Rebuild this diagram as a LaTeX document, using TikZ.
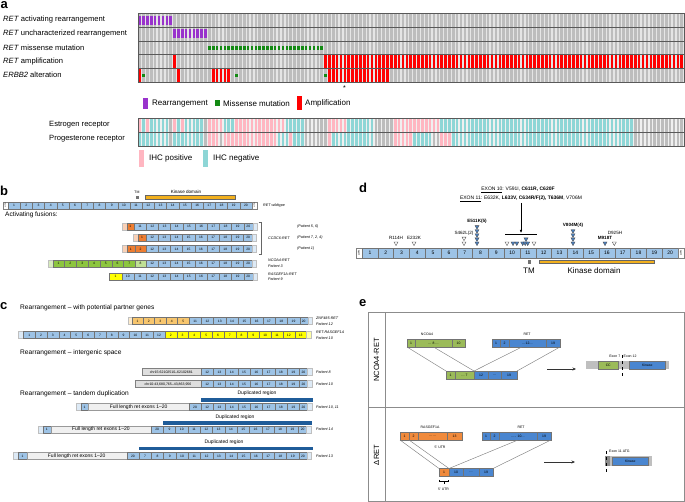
\documentclass[tikz,border=0pt]{standalone}
\usepackage{fontspec}
\setmainfont{Liberation Sans}
\usepackage{graphicx}
\usetikzlibrary{arrows.meta,calc}

\definecolor{rearr}{HTML}{9933CC}
\definecolor{missense}{HTML}{138A13}
\definecolor{ampl}{HTML}{FF0000}
\definecolor{ihcpos}{HTML}{FFB6C1}
\definecolor{ihcneg}{HTML}{8ED6D6}
\definecolor{nodata}{HTML}{BDBDBD}
\definecolor{exonblue}{HTML}{9DC3E6}
\definecolor{fusorange}{HTML}{ED7D31}
\definecolor{fusgreen}{HTML}{8DC63F}
\definecolor{fusyellow}{HTML}{FFFF00}
\definecolor{fustan}{HTML}{F8C66E}
\definecolor{kinase}{HTML}{F2B01E}
\definecolor{dupblue}{HTML}{1F5C99}
\definecolor{eblue}{HTML}{4A86D0}
\definecolor{egreen}{HTML}{9BBB59}
\definecolor{eorange}{HTML}{F08A3C}
\definecolor{mutblue}{HTML}{4A7EBB}

\def\cw{3.872}
\newcommand{\fs}[1]{\fontsize{#1}{#1}\selectfont}
% one box of an exon row, placed after the previous one
\newcounter{segno}
\newcommand{\seg}[4][]{%
  \stepcounter{segno}%
  \edef\segname{\ifx\relax#1\relax seg\arabic{segno}\else #1\fi}%
  \node[exon, #4, minimum width=#2] (\segname) at (\segx,\segy) {#3};
  \pgfmathsetmacro{\tmpx}{\segx+#2}\xdef\segx{\tmpx}}
% cells of the oncoprint
\newcommand{\hit}[5]{%
  \foreach \k in {#1,...,#2}
    \fill[#5] ({138+\k*\cw+0.4},#3) rectangle ({138+(\k+1)*\cw-0.9},#4);}

\tikzset{
  panel/.style={anchor=base west, inner sep=0, font=\fs{13}\bfseries},
  rowlab/.style={anchor=west, inner sep=0, font=\fs{7.6}},
  leglab/.style={anchor=west, inner sep=0, font=\fs{8}},
  head/.style={anchor=west, inner sep=0, font=\fs{6.6}},
  pat/.style={anchor=west, inner sep=0, font=\fs{3.7}\itshape},
  lbl/.style={inner sep=0, font=\fs{#1}},
  exon/.style={draw=black!55, line width=0.35, fill=exonblue, minimum height=7,
    inner sep=0, outer sep=0, anchor=west, font=\fs{3.3}},
  utr/.style={fill=white, draw=black!50},
  fade/.style={fill=#1!35, draw=black!25},
  fade/.default=exonblue,
  chrbox/.style={fill=black!13, draw=black!50, font=\fs{3.5}},
  fullbox/.style={fill=black!6, draw=black!40, font=\fs{5}},
  dex/.style={minimum height=10, font=\fs{5}},
  ebox/.style={fill=eblue, draw=black!55, minimum height=8, font=\fs{3.4}},
  link/.style={draw=black!50, line width=0.45},
  earrow/.style={-{Stealth[length=3.5,width=3]}, draw=black!80, line width=0.8},
  mut/.style={inner sep=0, font=\fs{4.6}},
  mutb/.style={inner sep=0, font=\fs{4.6}\bfseries},
  mutopen/.pic={\draw[black!70, fill=white, line width=0.35] (-2,-1.7) -- (2,-1.7) -- (0,1.9) -- cycle;},
  mutfill/.pic={\draw[black!70, fill=mutblue, line width=0.35] (-2,-1.7) -- (2,-1.7) -- (0,1.9) -- cycle;},
}

\begin{document}
\begin{tikzpicture}[x=1pt, y=-1pt]
\useasboundingbox (0,0) rectangle (685,502);

% ---------------- a ----------------
\node[panel] (pa) at (0.5,9) {a};
\node[rowlab] (ra1) at (3,19.8) {\textit{RET} activating rearrangement};
\node[rowlab] (ra2) at (3,33.6) {\textit{RET} uncharacterized rearrangement};
\node[rowlab] (ra3) at (3,47.4) {\textit{RET} missense mutation};
\node[rowlab] (ra4) at (3,61.4) {\textit{RET} amplification};
\node[rowlab] (ra5) at (3,75.2) {\textit{ERBB2} alteration};
\fill[black!10] (138,13.3) rectangle (684,82.3);
\hit{0}{140}{13.3}{82.3}{nodata}
\hit{0}{8}{15.6}{24.6}{rearr}
\hit{9}{17}{29.4}{38.4}{rearr}
\hit{18}{47}{45.9}{49.7}{missense}
\hit{9}{9}{54.7}{68.5}{ampl}
\hit{48}{140}{54.7}{68.5}{ampl}
\hit{0}{0}{68.5}{82.3}{ampl}
\hit{1}{1}{73.6}{77.4}{missense}
\hit{10}{10}{68.5}{82.3}{ampl}
\hit{19}{23}{68.5}{82.3}{ampl}
\hit{25}{25}{73.6}{77.4}{missense}
\hit{48}{48}{73.6}{77.4}{missense}
\hit{49}{64}{68.5}{82.3}{ampl}
\foreach \y in {27.1,40.9,54.7,68.5}
  \draw[black!65, line width=0.7] (138,\y) -- (684,\y);
\draw[black!65, line width=0.7] (138,13.3) rectangle (684,82.3);
\node[lbl=7] (star) at (344.5,88.2) {*};
% legend
\fill[rearr] (142.7,97.7) rectangle (148.3,109);
\node[leglab] (lg1) at (152,103.3) {Rearrangement};
\fill[missense] (215,100) rectangle (220,106.5);
\node[leglab] (lg2) at (223,103.3) {Missense mutation};
\fill[ampl] (296.7,96) rectangle (302.3,110);
\node[leglab] (lg3) at (305,103.3) {Amplification};
% receptors
\node[rowlab] (rer) at (49,124.8) {Estrogen receptor};
\node[rowlab] (rpr) at (49,138.8) {Progesterone receptor};
\fill[black!6] (138,118) rectangle (684,146);
\foreach \a/\b/\c in {0/0/ihcpos, 1/1/ihcneg, 2/2/ihcpos, 3/7/ihcneg, 8/8/nodata,
    9/9/ihcpos, 10/10/ihcneg, 11/11/ihcpos, 12/16/ihcneg, 17/17/nodata, 18/21/ihcpos,
    22/24/ihcneg, 25/37/ihcpos, 38/42/ihcneg, 43/48/nodata, 49/53/ihcpos, 54/60/ihcneg,
    61/65/nodata, 66/77/ihcpos, 78/127/ihcneg, 128/140/nodata}
  {\hit{\a}{\b}{118}{132}{\c}}
\foreach \a/\b/\c in {0/7/ihcneg, 8/8/nodata, 9/16/ihcneg, 17/17/nodata, 18/20/ihcpos,
    21/21/nodata, 22/35/ihcpos, 36/38/ihcneg, 39/39/ihcpos, 40/42/ihcneg, 43/48/nodata,
    49/49/ihcpos, 50/60/ihcneg, 61/65/nodata, 66/70/ihcpos, 71/75/ihcneg, 76/77/nodata,
    78/80/ihcpos, 81/127/ihcneg, 128/140/nodata}
  {\hit{\a}{\b}{132}{146}{\c}}
\draw[black!65, line width=0.7] (138,132) -- (684,132);
\draw[black!65, line width=0.7] (138,118) rectangle (684,146);
\fill[ihcpos] (139,150) rectangle (144,167);
\node[leglab] (lg4) at (149,158.8) {IHC positive};
\fill[ihcneg] (203,150) rectangle (208,167);
\node[leglab] (lg5) at (213,158.8) {IHC negative};

% ---------------- b ----------------
\node[panel] (pb) at (0,196) {b};
\node[lbl=3.5] (tmb) at (137,192) {TM};
\fill[black!55] (135.8,195.8) rectangle (138.6,198.6);
\draw[black!60, line width=0.35, fill=kinase] (145,195.6) rectangle (235,199.2);
\node[lbl=4.6] (kdb) at (186,191.5) {Kinase domain};
% wildtype
\def\segy{205.3}\xdef\segx{3}
\seg{5}{\rotatebox{90}{\fs{2}UTR}}{utr}
\foreach \n in {1,...,20}{\seg{12.2}{\n}{}}
\seg{5}{\rotatebox{90}{\fs{2}UTR}}{utr}
\node[pat] (wtl) at (263,205.3) {RET wildtype};
\node[lbl=6.5, anchor=west] (actf) at (5,214.6) {Activating fusions:};
% CCDC6-RET
\def\segy{226.7}\xdef\segx{121.7}
\seg{5}{}{fade=fusorange}\seg{7.3}{1}{fill=fusorange}
\foreach \n in {11,...,19}{\seg{12.2}{\n}{}}
\seg{9}{20}{}\seg{4}{}{fade}
\def\segy{237.7}\xdef\segx{133.3}
\seg{5}{}{fade=fusorange}\seg{7.7}{1}{fill=fusorange}
\foreach \n in {12,...,19}{\seg{12.2}{\n}{}}
\seg{9}{20}{}\seg{4}{}{fade}
\def\segy{249}\xdef\segx{121.7}
\seg{5}{}{fade=fusorange}\seg{8.3}{1}{fill=fusorange}\seg{11}{2}{fill=fusorange}
\foreach \n in {12,...,19}{\seg{12.2}{\n}{}}
\seg{9}{20}{}\seg{4}{}{fade}
% NCOA4-RET
\def\segy{263.3}\xdef\segx{47.7}
\seg{5}{}{fade=fusgreen}
\foreach \n in {1,...,7}{\seg{11.8}{\n}{fill=fusgreen}}
\seg{10.7}{8}{fill=fusgreen!55}
\foreach \n in {12,...,19}{\seg{12.2}{\n}{}}
\seg{9}{20}{}\seg{4}{}{fade}
% RASGEF1A-RET
\def\segy{276.7}\xdef\segx{109.3}
\seg{12.4}{1}{fill=fusyellow}
\foreach \n in {10,...,19}{\seg{12.2}{\n}{}}
\seg{9}{20}{}\seg{4}{}{fade}
\draw[black!60, line width=0.5] (258.5,222) -- (261.5,222) -- (261.5,254) -- (258.5,254);
\node[pat] (ccdc) at (268,238) {CCDC6-RET};
\node[pat] (p56) at (297,227) {(Patient 5, 6)};
\node[pat] (p724) at (297,238) {(Patient 7, 2, 4)};
\node[pat] (p1) at (297,249) {(Patient 1)};
\node[pat] (ncl) at (268,260.6) {NCOA4-RET};
\node[pat] (p3) at (268,265.9) {Patient 3};
\node[pat] (rgl) at (268,274) {RASGEF1A-RET};
\node[pat] (p9) at (268,279.3) {Patient 9};

% ---------------- c ----------------
\node[panel] (pc) at (0,310) {c};
\node[head] (hc1) at (20,307.5) {Rearrangement – with potential partner genes};
\def\segy{321}\xdef\segx{127.7}
\seg{4}{}{fade=fustan}
\foreach \n in {1,...,5}{\seg{11.46}{\n}{fill=fustan}}
\foreach \n in {11,...,19}{\seg{12.3}{\n}{}}
\seg{8}{20}{}\seg{4.5}{}{fade}
\def\segy{335}\xdef\segx{18.3}
\seg{5}{}{fade}
\foreach \n in {1,...,12}{\seg{11.8}{\n}{}}
\foreach \n in {2,...,13}{\seg{11.8}{\n}{fill=fusyellow}}
\seg{5}{}{fade=fusyellow}
\node[pat] (znf) at (316,318.4) {ZNF485-RET};
\node[pat] (p12) at (316,323.7) {Patient 12};
\node[pat] (rra) at (316,332.4) {RET-RASGEF1A};
\node[pat] (p10a) at (316,337.7) {Patient 10};
\node[head] (hc2) at (20,352.5) {Rearrangement – intergenic space};
\def\segy{372}\xdef\segx{141.7}
\seg{59.3}{chr15:62102510–62102681}{chrbox}
\foreach \n in {12,...,19}{\seg{12.3}{\n}{}}
\seg{8}{20}{}\seg{4.5}{}{fade}
\def\segy{384}\xdef\segx{135}
\seg{66}{chr10:43,680,765–43,863,956}{chrbox}
\foreach \n in {12,...,19}{\seg{12.3}{\n}{}}
\seg{8}{20}{}\seg{4.5}{}{fade}
\node[pat] (p8) at (316,372) {Patient 8};
\node[pat] (p10b) at (316,384) {Patient 10};
\node[head] (hc3) at (20,393.3) {Rearrangement – tandem duplication};
% tandem duplications
\fill[dupblue] (201,398) rectangle (313,402.3);
\node[lbl=5] (dr1) at (257,393.5) {Duplicated region};
\def\segy{407}\xdef\segx{76}
\seg{5}{}{fade}\seg{7.3}{1}{}
\seg{100.7}{Full length ret exons 1–20}{fullbox}
\seg{12}{20}{}
\foreach \n in {12,...,19}{\seg{12.3}{\n}{}}
\seg{8}{20}{}\seg{4.5}{}{fade}
\node[pat] (p1011) at (316,407) {Patient 10, 11};
\fill[dupblue] (163.3,421) rectangle (312,424.7);
\node[lbl=5] (dr2) at (235,417.3) {Duplicated region};
\def\segy{429.5}\xdef\segx{37.7}
\seg{5}{}{fade}\seg{8}{1}{}
\seg{100.3}{Full length ret exons 1–20}{fullbox}
\seg{12.3}{20}{}
\foreach \n in {9,...,19}{\seg{12.3}{\n}{}}
\seg{8}{20}{}\seg{4.5}{}{fade}
\node[pat] (p14) at (316,429.5) {Patient 14};
\fill[dupblue] (139,446.7) rectangle (313,450.3);
\node[lbl=5] (dr3) at (224,442.3) {Duplicated region};
\def\segy{456}\xdef\segx{13.3}
\seg{5}{}{fade}\seg{8.4}{1}{}
\seg{100}{Full length ret exons 1–20}{fullbox}
\seg{12.3}{20}{}
\foreach \n in {7,...,19}{\seg{12.3}{\n}{}}
\seg{8}{20}{}\seg{4.5}{}{fade}
\node[pat] (p13) at (316,456) {Patient 13};

% ---------------- d ----------------
\node[panel] (pd) at (359,193) {d};
\def\segy{253}\xdef\segx{356}
\seg{6}{\rotatebox{90}{\fs{2.6}UTR}}{dex,utr}
\foreach \n in {1,...,20}{\seg{15.8}{\n}{dex}}
\seg{6}{\rotatebox{90}{\fs{2.6}UTR}}{dex,utr}
\fill[black!55] (527.8,260.5) rectangle (531,263.7);
\draw[black!60, line width=0.35, fill=kinase] (539,260.2) rectangle (654,263.6);
\node[lbl=8] (tmd) at (529,270.8) {TM};
\node[lbl=8] (kdd) at (594,270.8) {Kinase domain};
\node[mut, font=\fs{5}] (ex10) at (518,190) {\underline{EXON 10}: V591I, \textbf{C611R, C620F}};
\node[mut, font=\fs{5}] (ex11) at (521,199) {\underline{EXON 11}: E632K, \textbf{L633V, C634R/F(2), T636M}, V706M};
\coordinate (exarr) at (521,203);
\coordinate (exhit) at (521,233);
\draw[-{Latex[length=3,width=2.6]}, line width=0.7] (exarr) -- (exhit);
\coordinate (hitl) at (505,234.3);
\coordinate (hitr) at (537,234.3);
\draw[line width=0.9] (hitl) -- (hitr);
\node[mut] (m114) at (396,237.5) {R114H};
\pic at (396,243.7) {mutopen};
\node[mut] (m232) at (414,237.5) {E232K};
\pic at (414,243.7) {mutopen};
\node[mut] (m462) at (464,233) {S462L(2)};
\pic at (464,238.8) {mutopen};
\pic at (464,243.7) {mutopen};
\node[mutb] (m511) at (477,221.5) {E511K(5)};
\foreach \y in {227.3,231.4,235.5,239.6,243.7} \pic at (477,\y) {mutfill};
\pic at (507,243.7) {mutopen};
\foreach \x in {513,516.8,522.7,525.2,527.7} \pic at (\x,243.7) {mutfill};
\pic at (526,239.6) {mutfill};
\pic at (534,243.7) {mutopen};
\node[mutb] (m804) at (573,225) {V804M(4)};
\foreach \y in {231.4,235.5,239.6,243.7} \pic at (573,\y) {mutfill};
\node[mutb] (m918) at (605,238.3) {M918T};
\pic at (605,243.7) {mutfill};
\node[mut] (m925) at (615,232.7) {D925H};
\pic at (614.3,243.7) {mutopen};

% ---------------- e ----------------
\node[panel] (pe) at (359,307) {e};
\draw[black!45, line width=0.7] (368,312.7) rectangle (684,501);
\draw[black!45, line width=0.7] (385,312.7) -- (385,501);
\draw[black!45, line width=0.7] (368,407) -- (684,407);
\node[lbl=7.5, rotate=90] (tnc) at (376.5,360) {NCOA4-RET};
\node[lbl=7.5, rotate=90] (tdr) at (376.5,455) {ΔRET};
% NCOA4-RET
\node[lbl=3.5] (lnc) at (427,334.5) {NCOA4};
\node[lbl=3.5] (lrt) at (527,334.5) {RET};
\def\segy{343}\xdef\segx{407}
\seg[nc1]{8}{1}{ebox,fill=egreen}\seg[nc2]{37}{… 8 …}{ebox,fill=egreen}\seg[nc3]{13}{10}{ebox,fill=egreen}
\xdef\segx{492}
\seg[rt1]{8}{1}{ebox}\seg[rt2]{9}{2}{ebox}\seg[rt3]{37}{…12…}{ebox}\seg[rt4]{14}{19}{ebox}
\def\segy{375}\xdef\segx{446}
\seg[fu1]{9}{1}{ebox,fill=egreen}\seg[fu2]{19}{… 7}{ebox,fill=egreen}
\seg[fu3]{14}{12}{ebox}\seg[fu4]{13}{…}{ebox}\seg[fu5]{16}{19}{ebox}
\draw[link] (nc1.south west) -- (fu1.north west);
\draw[link] (nc2.south) -- (fu2.north east);
\draw[link] ($(rt3.south west)!0.35!(rt3.south east)$) -- (fu2.north east);
\draw[link] (rt4.south east) -- (fu5.north east);
\coordinate (a1s) at (547,369);
\coordinate (a1e) at (576,369);
\draw[earrow] (a1s) -- (a1e);
\fill[black!25] (586,361) rectangle (669,369);
\node[ebox, anchor=west, fill=egreen, minimum width=20, minimum height=8, inner sep=0] (pcc) at (598,365) {CC};
\node[ebox, anchor=west, minimum width=36, minimum height=8, inner sep=0] (pkin) at (629,365) {Kinase};
\draw[dashed, line width=0.6] (622,355) -- (622,377);
\node[lbl=3.5, anchor=east] (ex7) at (620.5,356.5) {Exon 7};
\node[lbl=3.5, anchor=west] (ex12) at (623.5,356.5) {Exon 12};
% delta RET
\node[lbl=3.5] (lrg) at (430,427.5) {RASGEF1A};
\node[lbl=3.5] (lrb) at (521,427.5) {RET};
\def\segy{436}\xdef\segx{400}
\seg[rg1]{9}{1}{ebox,fill=eorange}\seg[rg2]{9}{2}{ebox,fill=eorange}\seg[rg3]{29}{……}{ebox,fill=eorange}\seg[rg4]{15}{13}{ebox,fill=eorange}
\xdef\segx{482}
\seg[rb1]{8}{1}{ebox}\seg[rb2]{9}{2}{ebox}\seg[rb3]{38}{….. 10…}{ebox}\seg[rb4]{14}{19}{ebox}
\node[lbl=3.5] (utr1) at (440,447) {5' UTR};
\def\segy{472.5}\xdef\segx{439}
\seg[fb1]{10}{1}{ebox,fill=eorange}\seg[fb2]{14}{10}{ebox}\seg[fb3]{16}{…}{ebox}\seg[fb4]{14}{19}{ebox}
\draw[link] (rg1.south west) -- (fb1.north west);
\draw[link] (rg2.south west) -- (fb1.north east);
\draw[link] (rb3.south) -- (fb2.north west);
\draw[link] (rb4.south east) -- (fb4.north east);
\draw[line width=0.5] (439.5,479.5) -- (439.5,481.5) -- (448.5,481.5) -- (448.5,479.5);
\draw[line width=0.5] (444,481.5) -- (444,484);
\node[lbl=3.5] (utr2) at (443.5,489) {5' UTR};
\coordinate (a2s) at (544,462);
\coordinate (a2e) at (575,462);
\draw[earrow] (a2s) -- (a2e);
\fill[black!25] (605,456) rectangle (652,466);
\fill[black!45] (605,456) rectangle (610,466);
\node[ebox, anchor=west, minimum width=36, minimum height=8.5, inner sep=0] (pkin2) at (612,461) {Kinase};
\draw[dashed, line width=0.6] (606,451) -- (606,474);
\node[lbl=3.5, anchor=west] (ex11a) at (609,451.5) {Exon 11 ATG};
\end{tikzpicture}
\end{document}
